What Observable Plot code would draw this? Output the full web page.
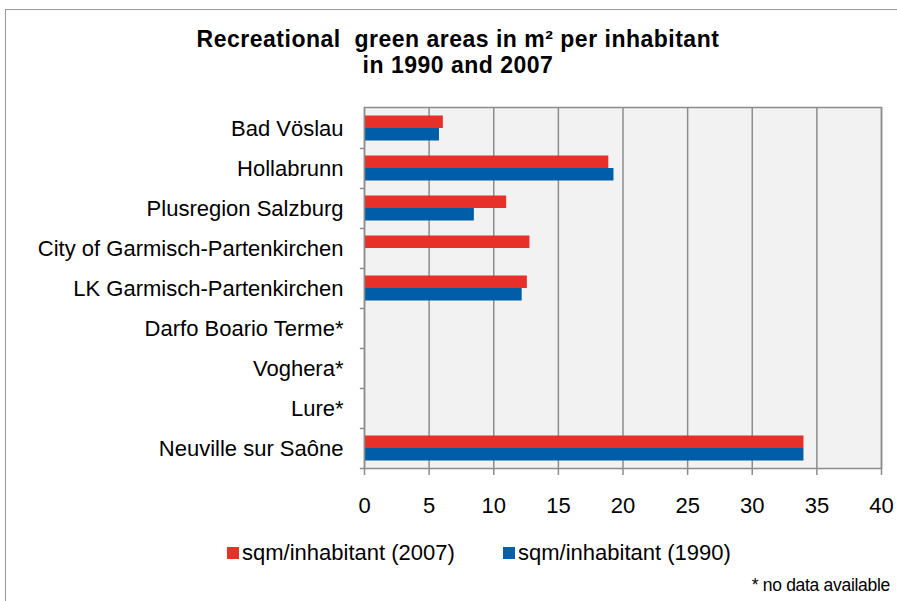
<!DOCTYPE html>
<html>
<head>
<meta charset="utf-8">
<script src="https://cdn.jsdelivr.net/npm/d3@7"></script>
<script src="https://cdn.jsdelivr.net/npm/@observablehq/plot@0.6"></script>
<style>
  html, body { margin: 0; padding: 0; background: #fff; }
  #wrap { position: relative; width: 897px; height: 601px; overflow: hidden; font-family: "Liberation Sans", Arial, sans-serif; color: #000; }
  #border { position: absolute; left: 5px; top: 9px; width: 920px; height: 620px; border: 1.5px solid #9a9a9a; box-sizing: border-box; }
  .title { position: absolute; left: 0; width: 916px; text-align: center; font-weight: bold; font-size: 23px; line-height: 26px; height: 26px; letter-spacing: 0.5px; white-space: nowrap; }
  #chart { position: absolute; left: 0; top: 0; }
  .leg { position: absolute; top: 542px; font-size: 22px; line-height: 22px; white-space: nowrap; }
  .sw { position: absolute; width: 12px; height: 12px; top: 547px; }
  #note { position: absolute; right: 7px; top: 577px; font-size: 17.5px; line-height: 17px; letter-spacing: -0.3px; white-space: nowrap; }
</style>
</head>
<body>
<div id="wrap">
  <div id="border"></div>
  <div class="title" style="top:26px">Recreational&nbsp; green areas in m² per inhabitant</div>
  <div class="title" style="top:52px">in 1990 and 2007</div>
  <div id="chart"></div>
  <div class="sw" style="left:227px;background:#e8302a"></div>
  <div class="leg" style="left:242px">sqm/inhabitant (2007)</div>
  <div class="sw" style="left:503px;background:#065fae"></div>
  <div class="leg" style="left:518px">sqm/inhabitant (1990)</div>
  <div id="note">* no data available</div>
</div>
<script>
const cities = ["Bad Vöslau", "Hollabrunn", "Plusregion Salzburg", "City of Garmisch-Partenkirchen", "LK Garmisch-Partenkirchen", "Darfo Boario Terme*", "Voghera*", "Lure*", "Neuville sur Saône"];
const values2007 = [6.1, 18.9, 11.0, 12.8, 12.6, null, null, null, 34.0];
const values1990 = [5.8, 19.3, 8.5, null, 12.2, null, null, null, 34.0];
const xTicks = [0, 5, 10, 15, 20, 25, 30, 35, 40];

const rows = cities.map((c, i) => ({city: c, v2007: values2007[i], v1990: values1990[i]}));
const red = "#e8302a", blue = "#005ea8", grid = "#8c8c8c";

const chart = Plot.plot({
  width: 897,
  height: 520,
  marginLeft: 364,
  marginRight: 16,
  marginTop: 107,
  marginBottom: 52,
  style: {fontFamily: "'Liberation Sans', Arial, sans-serif", fontSize: "22px", color: "#000", background: "transparent"},
  x: {domain: [0, 40], ticks: xTicks},
  y: {domain: cities, padding: 0},
  marks: [
    Plot.frame({fill: "#f2f2f2", stroke: null}),
    Plot.gridX(xTicks, {stroke: grid, strokeOpacity: 1, strokeWidth: 1.5}),
    Plot.barX(rows.filter(d => d.v2007 != null), {y: "city", x: "v2007", fill: red, insetTop: 7.5, insetBottom: 20}),
    Plot.barX(rows.filter(d => d.v1990 != null), {y: "city", x: "v1990", fill: blue, insetTop: 20, insetBottom: 7.5}),
    Plot.frame({stroke: grid, strokeWidth: 1.5}),
    Plot.ruleY(cities, {y: d => d, x1: -0.32, x2: 0, dy: 20, stroke: grid, strokeWidth: 1.5}),
    Plot.axisX(xTicks, {tickSize: 7, tickPadding: 22, stroke: grid, strokeWidth: 1.5, fontSize: 22, label: null}),
    Plot.axisY({tickSize: 0, tickPadding: 21, fontSize: 22, label: null})
  ]
});
document.getElementById("chart").appendChild(chart);
</script>
</body>
</html>
